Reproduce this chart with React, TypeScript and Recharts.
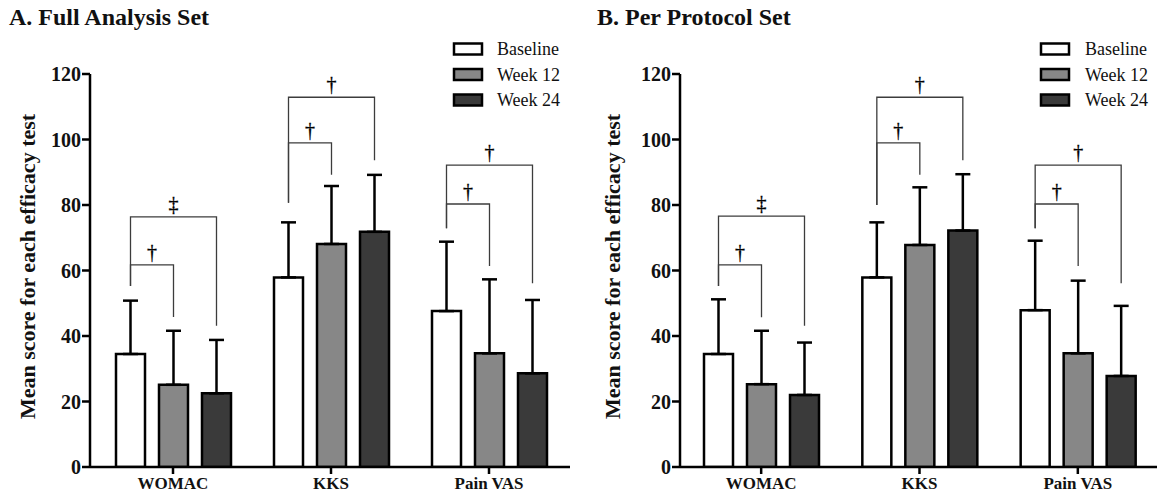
import React from 'react';
import { BarChart, Bar, XAxis, YAxis, ErrorBar, LabelList, Label } from 'recharts';

const categories = ['WOMAC', 'KKS', 'Pain VAS'];
const seriesNames = ['Baseline', 'Week 12', 'Week 24'];
const seriesColors = ['#ffffff', '#878787', '#3a3a3a'];
const yTicks = [0, 20, 40, 60, 80, 100, 120];
const panelTitles = ['A. Full Analysis Set', 'B. Per Protocol Set'];
const yAxisTitle = 'Mean score for each efficacy test';

// A. Full Analysis Set
const fasBaseline = [34.5, 57.9, 47.6];
const fasWeek12 = [25.1, 68.1, 34.7];
const fasWeek24 = [22.5, 71.8, 28.6];
const fasBaselineSD = [16.3, 16.8, 21.2];
const fasWeek12SD = [16.5, 17.7, 22.6];
const fasWeek24SD = [16.3, 17.4, 22.4];
const fasSmallBracket = [61.7, 99.0, 80.3];
const fasBigBracket = [76.4, 112.9, 92.2];
const fasBracketLeftEnd = [55.3, 80.7, 72.9];
const fasSmallRightEnd = [45.8, 89.2, 61.4];
const fasBigRightEnd = [43.1, 93.7, 56.1];
const fasSmallMark = ['†', '†', '†'];
const fasBigMark = ['‡', '†', '†'];

// B. Per Protocol Set
const ppsBaseline = [34.5, 57.9, 47.9];
const ppsWeek12 = [25.3, 67.8, 34.7];
const ppsWeek24 = [22.0, 72.2, 27.8];
const ppsBaselineSD = [16.7, 16.8, 21.2];
const ppsWeek12SD = [16.3, 17.6, 22.2];
const ppsWeek24SD = [16.0, 17.2, 21.4];
const ppsSmallBracket = [61.7, 99.0, 80.3];
const ppsBigBracket = [76.6, 112.9, 92.2];
const ppsBracketLeftEnd = [55.3, 80.0, 72.9];
const ppsSmallRightEnd = [45.7, 89.2, 61.4];
const ppsBigRightEnd = [43.1, 93.7, 56.1];
const ppsSmallMark = ['†', '†', '†'];
const ppsBigMark = ['‡', '†', '†'];

const FONT = "'Liberation Serif', 'Times New Roman', serif";
const BAR_SIZE = 29;
const BAR_GAP = 14;

type Rows = Array<Record<string, any>>;

function buildRows(b: number[], w12: number[], w24: number[], bSD: number[], w12SD: number[], w24SD: number[]): Rows {
  return categories.map((name, i) => ({
    name,
    baseline: b[i],
    week12: w12[i],
    week24: w24[i],
    baselineErr: [0, bSD[i]],
    week12Err: [0, w12SD[i]],
    week24Err: [0, w24SD[i]],
  }));
}

function makeBracket(heights: number[], rightEnds: number[], leftEnds: number[], marks: string[], steps: number) {
  return (props: any) => {
    const { x, y, width, height, value, index } = props;
    const xN = Number(x);
    const yN = Number(y);
    const w = Number(width);
    const h = Number(height);
    const v = Number(value);
    if (!isFinite(xN) || !isFinite(yN) || !v) return null;
    const bottom = yN + h;
    const ppu = h / v;
    const yOf = (val: number) => bottom - val * ppu;
    const cx = xN + w / 2;
    const lx = cx - steps * (BAR_SIZE + BAR_GAP);
    const hy = yOf(heights[index]);
    return (
      <g>
        <path
          d={`M${lx},${yOf(leftEnds[index])} L${lx},${hy} L${cx},${hy} L${cx},${yOf(rightEnds[index])}`}
          fill="none"
          stroke="#3c3c3c"
          strokeWidth={1.3}
        />
        <text x={(lx + cx) / 2} y={hy - 6} textAnchor="middle" fontSize={20} fontFamily={FONT} fill="#000" stroke="#000" strokeWidth={0.3}>
          {marks[index]}
        </text>
      </g>
    );
  };
}

function YTitle({ viewBox, dx }: any) {
  if (!viewBox) return null;
  const cx = viewBox.x + dx;
  const cy = viewBox.y + viewBox.height / 2 - 4;
  return (
    <text
      x={cx}
      y={cy}
      transform={`rotate(-90, ${cx}, ${cy})`}
      textAnchor="middle"
      dominantBaseline="central"
      fontSize={22}
      fontWeight="bold"
      fontFamily={FONT}
      fill="#111"
    >
      {yAxisTitle}
    </text>
  );
}

interface PanelProps {
  rows: Rows;
  width: number;
  marginRight: number;
  yAxisWidth: number;
  padLeft: number;
  padRight: number;
  labelDx: number;
  small: [number[], number[], number[], string[]];
  big: [number[], number[], number[], string[]];
}

function Panel({ rows, width, marginRight, yAxisWidth, padLeft, padRight, labelDx, small, big }: PanelProps) {
  const axisStyle = { stroke: '#000', strokeWidth: 2.5 };
  return (
    <BarChart
      width={width}
      height={498}
      data={rows}
      margin={{ top: 74, right: marginRight, left: 0, bottom: 0 }}
      barSize={BAR_SIZE}
      barGap={BAR_GAP}
    >
      <XAxis
        dataKey="name"
        height={31}
        padding={{ left: padLeft, right: padRight }}
        axisLine={axisStyle}
        tickLine={axisStyle}
        tickSize={7}
        tickMargin={3}
        tick={{ fontSize: 17, fontWeight: 'bold', fill: '#111', fontFamily: FONT }}
        interval={0}
      />
      <YAxis
        width={yAxisWidth}
        domain={[0, 120]}
        ticks={yTicks}
        allowDataOverflow
        axisLine={axisStyle}
        tickLine={axisStyle}
        tickSize={8}
        tickMargin={1}
        tick={{ fontSize: 20, fontWeight: 'bold', fill: '#111', fontFamily: FONT }}
      >
        <Label content={(p: any) => <YTitle viewBox={p.viewBox} dx={labelDx} />} />
      </YAxis>
      <Bar dataKey="baseline" name={seriesNames[0]} fill={seriesColors[0]} stroke="#000" strokeWidth={2.5} isAnimationActive={false}>
        <ErrorBar dataKey="baselineErr" width={7.5} stroke="#000" strokeWidth={2.5} direction="y" />
      </Bar>
      <Bar dataKey="week12" name={seriesNames[1]} fill={seriesColors[1]} stroke="#000" strokeWidth={2.5} isAnimationActive={false}>
        <ErrorBar dataKey="week12Err" width={7.5} stroke="#000" strokeWidth={2.5} direction="y" />
        <LabelList dataKey="week12" content={makeBracket(small[0], small[1], small[2], small[3], 1)} />
      </Bar>
      <Bar dataKey="week24" name={seriesNames[2]} fill={seriesColors[2]} stroke="#000" strokeWidth={2.5} isAnimationActive={false}>
        <ErrorBar dataKey="week24Err" width={7.5} stroke="#000" strokeWidth={2.5} direction="y" />
        <LabelList dataKey="week24" content={makeBracket(big[0], big[1], big[2], big[3], 2)} />
      </Bar>
    </BarChart>
  );
}

function LegendBlock({ boxX, textX }: { boxX: number; textX: number }) {
  const rowCenters = [49, 74.5, 100];
  return (
    <g>
      {seriesNames.map((n, i) => (
        <g key={n}>
          <rect x={boxX} y={rowCenters[i] - 5.5} width={28} height={11} fill={seriesColors[i]} stroke="#000" strokeWidth={2.5} />
          <text x={textX} y={rowCenters[i] + 6} fontSize={18} fontFamily={FONT} fill="#111">
            {n}
          </text>
        </g>
      ))}
    </g>
  );
}

export default function App() {
  const fasRows = buildRows(fasBaseline, fasWeek12, fasWeek24, fasBaselineSD, fasWeek12SD, fasWeek24SD);
  const ppsRows = buildRows(ppsBaseline, ppsWeek12, ppsWeek24, ppsBaselineSD, ppsWeek12SD, ppsWeek24SD);
  return (
    <div style={{ position: 'absolute', left: 0, top: 0, width: 1157, height: 498, background: '#fff', overflow: 'hidden' }}>
      <div style={{ position: 'absolute', left: 0, top: 0 }}>
        <Panel
          rows={fasRows}
          width={580}
          marginRight={10}
          yAxisWidth={90}
          padLeft={4}
          padRight={2}
          labelDx={27}
          small={[fasSmallBracket, fasSmallRightEnd, fasBracketLeftEnd, fasSmallMark]}
          big={[fasBigBracket, fasBigRightEnd, fasBracketLeftEnd, fasBigMark]}
        />
      </div>
      <div style={{ position: 'absolute', left: 580, top: 0 }}>
        <Panel
          rows={ppsRows}
          width={577}
          marginRight={0}
          yAxisWidth={100}
          padLeft={2}
          padRight={0}
          labelDx={32.5}
          small={[ppsSmallBracket, ppsSmallRightEnd, ppsBracketLeftEnd, ppsSmallMark]}
          big={[ppsBigBracket, ppsBigRightEnd, ppsBracketLeftEnd, ppsBigMark]}
        />
      </div>
      <svg width={1157} height={498} style={{ position: 'absolute', left: 0, top: 0, pointerEvents: 'none' }}>
        <text x={9} y={25} fontSize={24} fontWeight="bold" fontFamily={FONT} fill="#111">{panelTitles[0]}</text>
        <text x={597} y={25} fontSize={24} fontWeight="bold" fontFamily={FONT} fill="#111">{panelTitles[1]}</text>
        <LegendBlock boxX={454} textX={497} />
        <LegendBlock boxX={1041} textX={1085} />
      </svg>
    </div>
  );
}
